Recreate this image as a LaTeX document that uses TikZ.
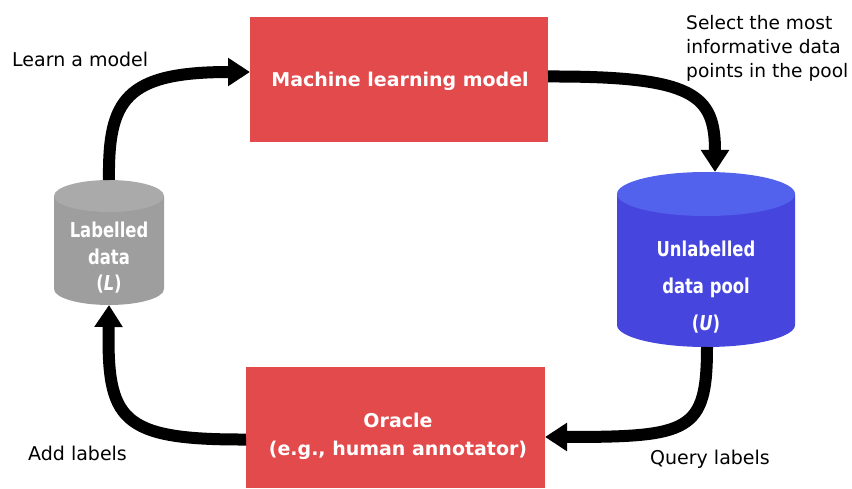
\documentclass[tikz,border=0pt]{standalone}
\usepackage{fontspec}
\setmainfont{DejaVu Sans}
\usetikzlibrary{arrows.meta}
\definecolor{boxred}{RGB}{226,74,76}
\definecolor{grayside}{RGB}{158,158,158}
\definecolor{graytop}{RGB}{170,170,170}
\definecolor{blueside}{RGB}{70,70,222}
\definecolor{bluetop}{RGB}{82,98,236}
% narrow bold lettering used inside the cylinders
\newcommand{\narrow}[1]{\scalebox{0.8}[1]{#1}}
\tikzset{
  procbox/.style={fill=boxred, draw=none, outer sep=0pt, inner sep=0pt},
  boxtext/.style={text=white, inner sep=0pt, align=center,
    font=\bfseries\fontsize{19}{28}\selectfont},
  cylarea/.style={draw=none, outer sep=0pt, inner sep=0pt},
  cyltext/.style={inner sep=0pt, text=white, align=center},
  flow/.style={line width=12pt, -{Triangle[width=27pt,length=22pt]}},
  note/.style={font=\fontsize{19}{24}\selectfont, inner sep=0pt, align=left}
}
\begin{document}
\begin{tikzpicture}[x=1pt,y=-1pt]
\useasboundingbox (0,0) rectangle (852,489);

% labelled data store (grey cylinder)
\fill[grayside] (54,196) -- (54,289) arc[start angle=180,end angle=0,x radius=55,y radius=16] -- (164,196) -- cycle;
\fill[graytop] (109,196) ellipse[x radius=55,y radius=16];
\node[cylarea, minimum width=110, minimum height=125] (L) at (109,242.5) {};
\node[cyltext, font=\bfseries\fontsize{20.5}{26.5}\selectfont] (Lt) at (109,258)
  {\narrow{Labelled}\\\narrow{data}\\\narrow{(\textit{L})}};

% unlabelled pool (blue cylinder)
\fill[blueside] (617,194) -- (617,325) arc[start angle=180,end angle=0,x radius=89,y radius=22] -- (795,194) -- cycle;
\fill[bluetop] (706,194) ellipse[x radius=89,y radius=22];
\node[cylarea, minimum width=178, minimum height=175] (U) at (706,259.5) {};
\node[cyltext, font=\bfseries\fontsize{20.5}{37}\selectfont] (Ut) at (706,287)
  {\narrow{Unlabelled}\\\narrow{data pool}\\\narrow{(\textit{U})}};

% process boxes
\node[procbox, minimum width=298, minimum height=125] (M) at (399,79.5) {};
\node[boxtext] (Mt) at (400,81) {Machine learning model};
\node[procbox, minimum width=299, minimum height=121] (O) at (395.5,427.5) {};
\node[boxtext] (Ot) at (398,436) {Oracle\\(e.g., human annotator)};

% cycle connectors
\draw[flow] (L.north) .. controls (108,100) and (125,72) .. ([yshift=7.5pt]M.west);
\draw[flow] ([yshift=3pt]M.east) .. controls (695,76) and (715,95) .. ([xshift=9pt]U.north);
\draw[flow] ([xshift=1pt]U.south) .. controls (707,432) and (690,437) .. ([yshift=-9.5pt]O.east);
\draw[flow] ([yshift=-12pt]O.west) .. controls (120,440) and (107,420) .. (L.south);

% step notes
\node[note, anchor=west] (n1) at (12,59) {Learn a model};
\node[note, anchor=north west, font=\fontsize{18.6}{24}\selectfont] (n2) at (686,15) {Select the most\\informative data\\points in the pool};
\node[note, anchor=west] (n3) at (28,453) {Add labels};
\node[note, anchor=west] (n4) at (650,459) {Query labels};
\end{tikzpicture}
\end{document}
